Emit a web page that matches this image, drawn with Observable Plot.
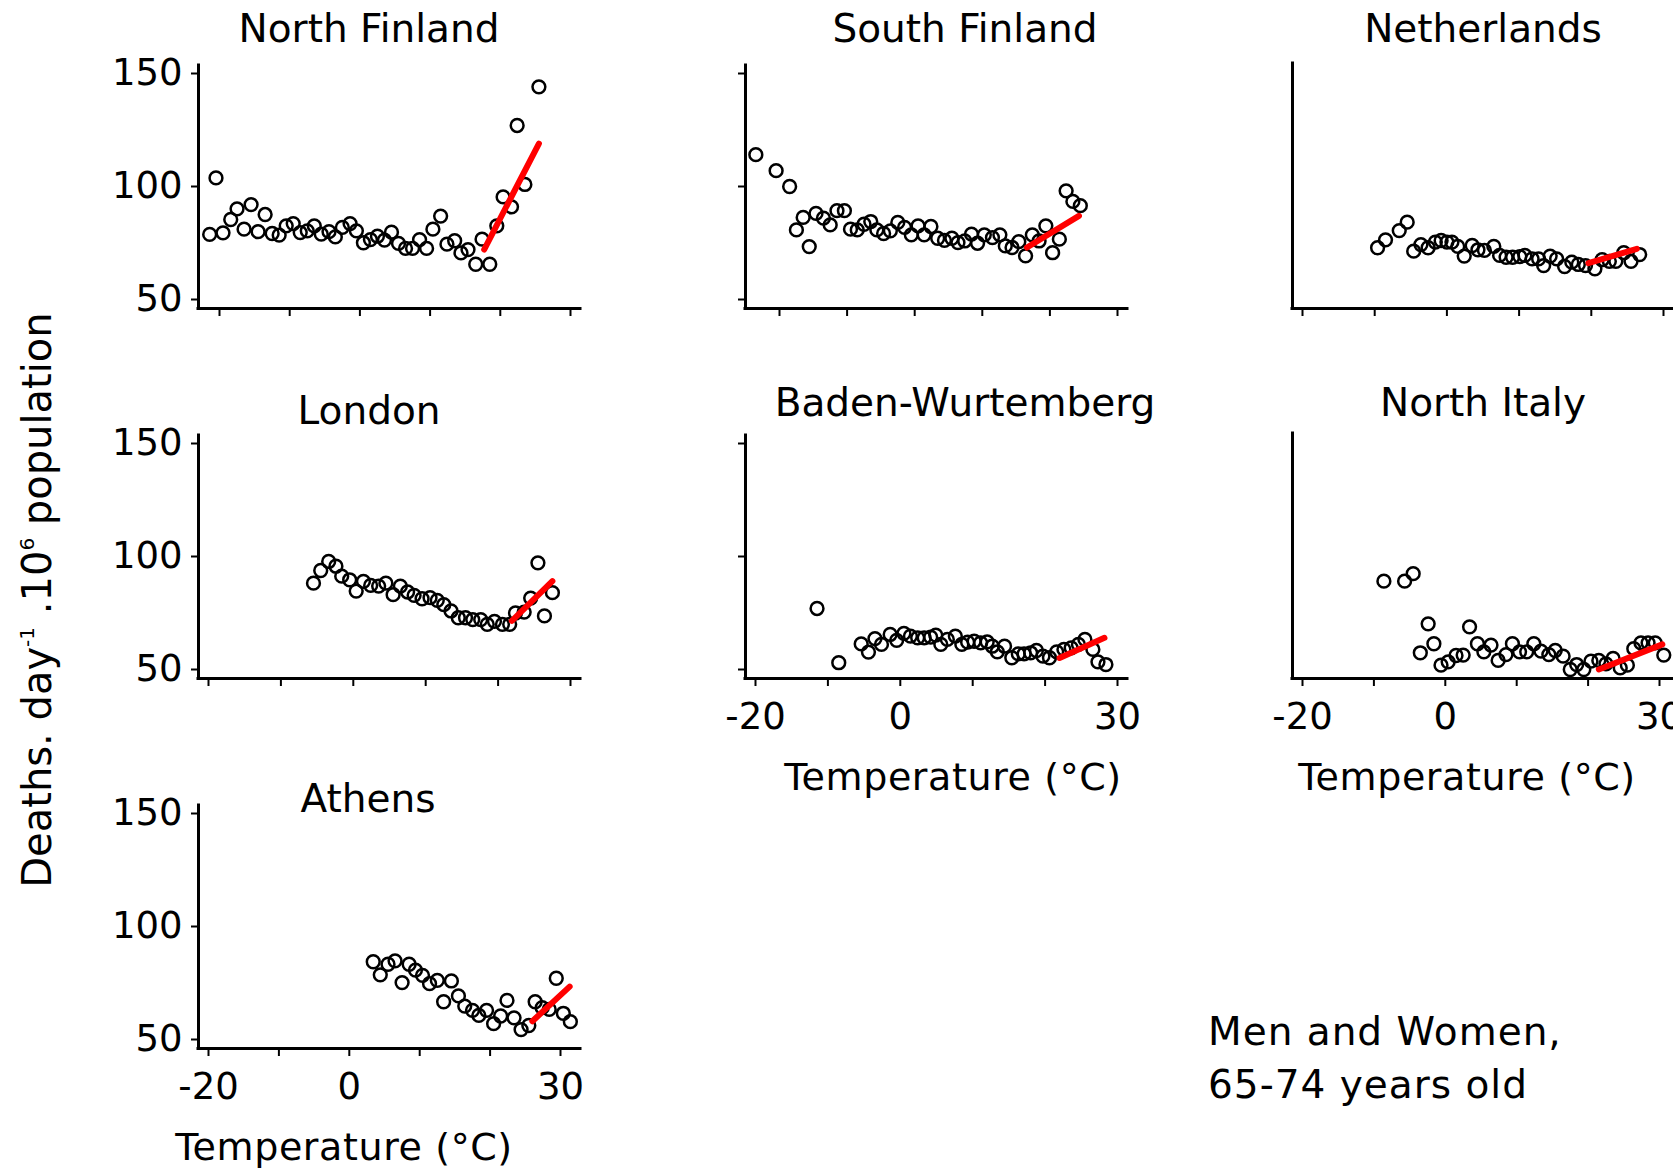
<!DOCTYPE html>
<html><head><meta charset="utf-8">
<script src="https://cdn.jsdelivr.net/npm/d3@7"></script>
<script src="https://cdn.jsdelivr.net/npm/@observablehq/plot@0.6"></script>
<style>
html,body{margin:0;padding:0;background:#fff;overflow:hidden;}
#page{position:relative;width:1673px;height:1171px;overflow:hidden;font-family:"DejaVu Sans",sans-serif;color:#000;background:#fff;}
.panel{position:absolute;}
.panel svg{display:block;overflow:hidden;}
.panel svg [aria-label="x-axis"] line,.panel svg [aria-label="y-axis"] line,
.panel svg [aria-label="x-axis tick"] path,.panel svg [aria-label="y-axis tick"] path{stroke-width:2px;}
.t{position:absolute;white-space:nowrap;line-height:1;}
.c{transform:translateX(-50%);}
.ylab{position:absolute;white-space:nowrap;line-height:1;font-size:40px;transform:translate(-50%,-50%) rotate(-90deg);}
.ylab sup{font-size:0.5em;position:relative;top:-0.15em;}
</style>
</head><body>
<div id="page"></div>
<script>
// ---- Data ----
const xTickValues = [-20, -10, 0, 10, 20, 30];
const xTickLabelled = [-20, 0, 30];
const yTickValues = [50, 100, 150];

const panelNames = ["North Finland", "South Finland", "Netherlands", "London", "Baden-Wurtemberg", "North Italy", "Athens"];

const northFinlandTemp = [-21.4,-20.5,-19.5,-18.4,-17.5,-16.5,-15.5,-14.5,-13.5,-12.5,-11.5,-10.5,-9.5,-8.5,-7.5,-6.5,-5.5,-4.4,-3.5,-2.5,-1.4,-0.5,0.5,1.5,2.5,3.5,4.5,5.5,6.5,7.5,8.5,9.5,10.4,11.5,12.4,13.5,14.4,15.4,16.5,17.4,18.5,19.5,20.4,21.6,22.4,23.5,25.5];
const northFinlandDeaths = [78.8,103.8,79.5,85.4,90.1,81.1,92.0,80.0,87.6,79.2,78.5,82.6,83.6,79.6,80.4,82.6,78.9,80.0,77.7,81.9,83.6,80.4,75.1,76.5,78.0,76.3,79.8,74.8,72.6,72.6,76.5,72.6,81.1,86.9,74.5,76.0,70.6,72.1,65.6,76.7,65.6,82.6,95.4,91.0,127.0,100.9,144.1];
const northFinlandFitTemp = [17.7, 25.5];
const northFinlandFitDeaths = [72.1, 119.0];

const southFinlandTemp = [-23.5,-20.5,-18.5,-17.5,-16.5,-15.6,-14.6,-13.5,-12.5,-11.5,-10.4,-9.5,-8.5,-7.5,-6.5,-5.6,-4.6,-3.6,-2.5,-1.5,-0.5,0.5,1.4,2.4,3.4,4.4,5.5,6.4,7.4,8.4,9.3,10.3,11.5,12.6,13.4,14.4,15.4,16.4,17.4,18.4,19.4,20.4,21.4,22.4,23.4,24.5];
const southFinlandDeaths = [114.1,107.0,100.0,80.8,86.3,73.4,88.1,86.0,83.0,89.3,89.3,81.1,80.8,83.3,84.5,80.8,79.2,80.4,84.1,81.9,78.6,82.6,78.6,82.3,77.1,76.2,77.1,75.2,75.9,78.9,74.9,78.6,77.4,78.6,73.7,73.0,75.6,69.3,78.6,75.9,82.6,70.7,76.7,98.1,93.4,91.5];
const southFinlandFitTemp = [16.6, 24.3];
const southFinlandFitDeaths = [73.0, 87.0];

const netherlandsTemp = [-9.6,-8.5,-6.6,-5.5,-4.6,-3.6,-2.6,-1.6,-0.8,0.0,0.7,1.5,2.4,3.5,4.3,5.2,6.5,7.3,8.2,9.1,10.1,10.8,11.8,12.7,13.4,14.3,15.2,16.3,17.3,18.2,19.2,20.5,21.5,22.5,23.4,24.5,25.5,26.7];
const netherlandsDeaths = [72.9,76.4,80.5,84.2,71.4,74.3,72.9,75.4,76.1,75.4,75.4,73.5,69.2,73.9,72.0,71.7,73.5,69.5,68.7,68.7,69.0,69.5,68.0,68.0,65.0,69.2,68.0,64.6,66.5,65.5,65.0,63.6,67.6,66.9,66.9,70.7,66.9,69.9];
const netherlandsFitTemp = [19.6, 26.3];
const netherlandsFitDeaths = [66.1, 72.4];

const londonTemp = [-5.5,-4.5,-3.4,-2.4,-1.6,-0.5,0.4,1.4,2.4,3.5,4.5,5.5,6.5,7.5,8.4,9.5,10.6,11.6,12.5,13.5,14.5,15.5,16.5,17.6,18.5,19.5,20.6,21.6,22.4,23.6,24.5,25.5,26.4,27.5];
const londonDeaths = [88.2,93.8,97.8,95.7,91.3,89.7,84.7,89.0,87.2,86.9,88.2,83.1,86.9,84.3,82.8,81.3,81.8,80.6,78.7,75.9,72.9,72.9,72.1,72.1,70.0,71.3,70.0,70.0,75.0,75.4,81.6,97.2,73.7,84.0];
const londonFitTemp = [21.9, 27.5];
const londonFitDeaths = [71.5, 89.1];

const badenTemp = [-11.5,-8.5,-5.4,-4.4,-3.5,-2.6,-1.4,-0.5,0.5,1.4,2.4,3.3,4.2,4.9,5.6,6.5,7.6,8.5,9.3,10.2,11.1,12.0,12.7,13.4,14.4,15.4,16.3,17.1,18.0,18.8,19.7,20.6,21.6,22.6,23.6,24.6,25.5,26.6,27.3,28.4];
const badenDeaths = [77.0,53.0,61.3,57.7,63.7,61.1,65.5,62.9,66.0,64.8,64.0,64.0,64.3,65.2,61.1,63.3,64.8,61.1,62.1,62.5,61.8,62.2,60.3,57.8,60.3,55.2,56.9,56.9,57.4,58.4,55.9,55.2,57.8,58.9,59.6,61.1,63.3,58.9,53.4,52.2];
const badenFitTemp = [22.0, 28.2];
const badenFitDeaths = [55.1, 64.0];

const northItalyTemp = [-8.6,-5.7,-4.5,-3.5,-2.4,-1.6,-0.6,0.4,1.5,2.5,3.4,4.5,5.4,6.4,7.4,8.5,9.4,10.4,11.4,12.4,13.4,14.5,15.4,16.5,17.5,18.4,19.4,20.4,21.5,22.5,23.5,24.5,25.5,26.4,27.4,28.4,29.4,30.6];
const northItalyDeaths = [89.1,89.1,92.4,57.4,70.2,61.4,51.9,53.4,56.2,56.4,68.9,61.4,57.8,60.8,54.0,56.6,61.4,57.8,57.8,61.4,58.1,56.6,58.4,55.9,50.0,52.2,50.0,53.7,54.0,52.5,54.9,50.7,51.9,59.2,61.8,61.8,61.8,56.4];
const northItalyFitTemp = [21.5, 30.4];
const northItalyFitDeaths = [50.0, 61.1];

const athensTemp = [3.4,4.4,5.5,6.5,7.5,8.5,9.4,10.4,11.4,12.5,13.4,14.5,15.5,16.4,17.5,18.4,19.5,20.5,21.5,22.4,23.4,24.4,25.5,26.4,27.4,28.4,29.4,30.4,31.4];
const athensDeaths = [84.4,78.6,83.3,84.8,75.2,83.3,80.7,78.4,74.7,76.2,66.7,75.9,69.3,64.8,62.9,60.7,62.9,57.0,60.4,67.3,59.6,54.4,56.2,66.7,64.1,63.3,77.1,61.6,57.9];
const athensFitTemp = [26.0, 31.3];
const athensFitDeaths = [58.1, 73.4];

const xAxisTitle = "Temperature (°C)";
const captionLines = ["Men and Women,", "65-74 years old"];

// ---- Layout (pixel positions of each panel's axes) ----
const layouts = [
  {name: panelNames[0], temps: northFinlandTemp, deaths: northFinlandDeaths, fitT: northFinlandFitTemp, fitD: northFinlandFitDeaths,
   sl:100, sr:600, st:40, sb:330, ax:198, aright:580, atop:65, ay:308, tx0:219, tx1:570, ty150:73, ty50:299, yMode:"labels", xLabels:false,
   title:{cx:369, base:42}},
  {name: panelNames[1], temps: southFinlandTemp, deaths: southFinlandDeaths, fitT: southFinlandFitTemp, fitD: southFinlandFitDeaths,
   sl:720, sr:1147, st:50, sb:330, ax:745, aright:1127, atop:65, ay:308, tx0:779, tx1:1117, ty150:73, ty50:299, yMode:"ticks", xLabels:false,
   title:{cx:965, base:42}},
  {name: panelNames[2], temps: netherlandsTemp, deaths: netherlandsDeaths, fitT: netherlandsFitTemp, fitD: netherlandsFitDeaths,
   sl:1270, sr:1673, st:50, sb:330, ax:1292, aright:1673, atop:63, ay:308, tx0:1302, tx1:1663, ty150:73, ty50:299, yMode:"none", xLabels:false,
   title:{cx:1483, base:42}},
  {name: panelNames[3], temps: londonTemp, deaths: londonDeaths, fitT: londonFitTemp, fitD: londonFitDeaths,
   sl:100, sr:600, st:420, sb:700, ax:198, aright:580, atop:435, ay:678, tx0:208, tx1:570, ty150:443, ty50:669, yMode:"labels", xLabels:false,
   title:{cx:369, base:424}},
  {name: panelNames[4], temps: badenTemp, deaths: badenDeaths, fitT: badenFitTemp, fitD: badenFitDeaths,
   sl:700, sr:1147, st:425, sb:745, ax:745, aright:1127, atop:435, ay:678, tx0:755, tx1:1117, ty150:443, ty50:669, yMode:"ticks", xLabels:true,
   title:{cx:965, base:416}, xTitle:{cx:953, base:790}},
  {name: panelNames[5], temps: northItalyTemp, deaths: northItalyDeaths, fitT: northItalyFitTemp, fitD: northItalyFitDeaths,
   sl:1250, sr:1673, st:425, sb:745, ax:1292, aright:1673, atop:433, ay:678, tx0:1302, tx1:1659, ty150:443, ty50:669, yMode:"none", xLabels:true,
   title:{cx:1483, base:416}, xTitle:{cx:1467, base:790}},
  {name: panelNames[6], temps: athensTemp, deaths: athensDeaths, fitT: athensFitTemp, fitD: athensFitDeaths,
   sl:100, sr:600, st:785, sb:1115, ax:198, aright:580, atop:805, ay:1048, tx0:208, tx1:560, ty150:813, ty50:1039, yMode:"labels", xLabels:true,
   title:{cx:368, base:812}, xTitle:{cx:344, base:1160}}
];

const page = document.getElementById("page");
const FONT = '"DejaVu Sans", sans-serif';

function addText(txt, cx, base, size, centered, spacing) {
  const d = document.createElement("div");
  d.className = "t" + (centered ? " c" : "");
  d.style.fontSize = size + "px";
  if (spacing) d.style.letterSpacing = spacing + "px";
  d.style.left = cx + "px";
  d.style.top = (base - 0.846 * size) + "px";
  d.textContent = txt;
  page.appendChild(d);
}

for (const p of layouts) {
  const kx = 50 / (p.tx1 - p.tx0);
  const xDomain = [-20 + (p.ax - p.tx0) * kx, -20 + (p.aright - p.tx0) * kx];
  const ky = 100 / (p.ty50 - p.ty150);
  const yDomain = [50 - (p.ay - p.ty50) * ky, 150 + (p.ty150 - p.atop) * ky];
  const pts = p.temps.map((t, i) => ({t, d: p.deaths[i]}));
  const fit = p.fitT.map((t, i) => ({t, d: p.fitD[i]}));
  const yOpts = p.yMode === "none"
    ? {domain: yDomain, axis: null}
    : {domain: yDomain, ticks: yTickValues, tickSize: 7, tickPadding: 9, label: null,
       tickFormat: p.yMode === "labels" ? (d => String(d)) : (() => "")};
  const chart = Plot.plot({
    width: p.sr - p.sl,
    height: p.sb - p.st,
    marginLeft: p.ax - p.sl,
    marginRight: p.sr - p.aright,
    marginTop: p.atop - p.st,
    marginBottom: p.sb - p.ay,
    style: {fontFamily: FONT, fontSize: "37px", color: "black", background: "transparent"},
    x: {domain: xDomain, ticks: xTickValues, tickSize: 8, tickPadding: 16, label: null,
        tickFormat: p.xLabels ? (d => xTickLabelled.includes(d) ? String(d) : "") : (() => "")},
    y: yOpts,
    marks: [
      Plot.ruleX([xDomain[0]], {stroke: "black", strokeWidth: 3, strokeLinecap: "square"}),
      Plot.ruleY([yDomain[0]], {stroke: "black", strokeWidth: 3, strokeLinecap: "square"}),
      Plot.dot(pts, {x: "t", y: "d", r: 6.4, stroke: "black", strokeWidth: 2.5, fill: "none"}),
      Plot.line(fit, {x: "t", y: "d", stroke: "#ff0000", strokeWidth: 6})
    ]
  });
  const wrap = document.createElement("div");
  wrap.className = "panel";
  wrap.style.left = p.sl + "px";
  wrap.style.top = p.st + "px";
  wrap.appendChild(chart);
  page.appendChild(wrap);

  addText(p.name, p.title.cx, p.title.base, 39, true);
  if (p.xTitle) addText(xAxisTitle, p.xTitle.cx, p.xTitle.base, 38, true, 0.6);
}

// caption
addText(captionLines[0], 1208, 1045, 39, false, 1);
addText(captionLines[1], 1208, 1098, 39, false, 1);

// y-axis title
const yl = document.createElement("div");
yl.className = "ylab";
yl.style.left = "37px";
yl.style.top = "600px";
yl.innerHTML = "Deaths. day<sup>-1</sup> .10<sup>6</sup> population";
page.appendChild(yl);
</script>
</body></html>
